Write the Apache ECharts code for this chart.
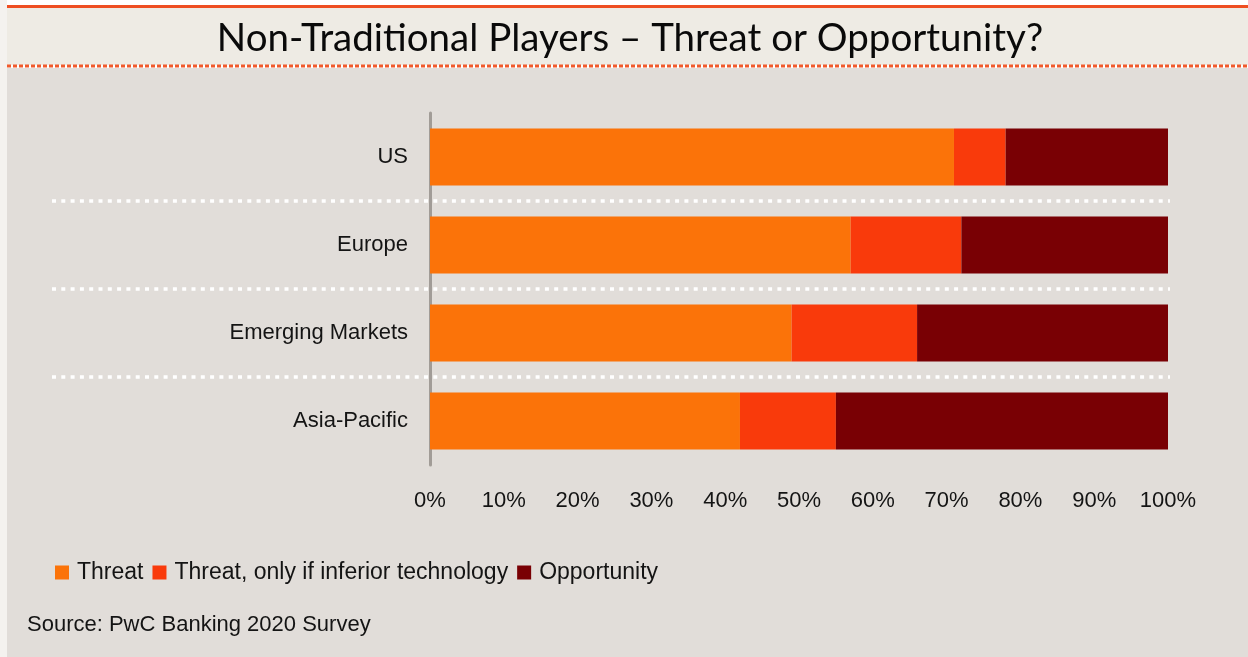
<!DOCTYPE html>
<html>
<head>
<meta charset="utf-8">
<title>Non-Traditional Players – Threat or Opportunity?</title>
<script src="https://cdn.jsdelivr.net/npm/echarts@6/dist/echarts.min.js"></script>
<style>
  html, body { margin: 0; padding: 0; background: #e1ddd9; }
  #chart { width: 1248px; height: 657px; }
</style>
</head>
<body>
<div id="chart"></div>
<script>
// Survey regions, top to bottom
const categories = ['US', 'Europe', 'Emerging Markets', 'Asia-Pacific'];

// Share of respondents (%) per answer
const threat = [71, 57, 49, 42];
const threatIfInferior = [7, 15, 17, 13];
const opportunity = [22, 28, 34, 45];

const seriesNames = ['Threat', 'Threat, only if inferior technology', 'Opportunity'];
const seriesColors = ['#fb7309', '#f93a0b', '#790004'];

// Percentage axis
const xMin = 0;
const xMax = 100;
const xStep = 10;

const titleText = 'Non-Traditional Players – Threat or Opportunity?';
const sourceText = 'Source: PwC Banking 2020 Survey';

const textFont = '"Liberation Sans", Arial, Helvetica, sans-serif';
const textColor = '#141414';

const chart = echarts.init(document.getElementById('chart'), null, { renderer: 'canvas' });

const values = [threat, threatIfInferior, opportunity];

chart.setOption({
  backgroundColor: '#e1ddd9',
  animation: false,
  title: {
    text: titleText,
    left: 630,
    top: 39,
    textAlign: 'center',
    textVerticalAlign: 'middle',
    padding: 0,
    textStyle: {
      fontFamily: 'Lato, "Open Sans", sans-serif',
      fontWeight: 'normal',
      fontSize: 38.5,
      color: '#0a0a0a'
    }
  },
  legend: {
    left: 55,
    top: 561,
    icon: 'rect',
    itemWidth: 14,
    itemHeight: 14,
    itemGap: 9,
    padding: 0,
    selectedMode: false,
    data: seriesNames,
    textStyle: {
      fontFamily: textFont,
      fontSize: 23,
      color: textColor,
      padding: [0, 0, 0, 3]
    }
  },
  grid: [
    // main bar area
    { left: 430, top: 113, width: 738, height: 352, containLabel: false },
    // separators between region bands, spanning the label column too
    { left: 52, top: 201, width: 1118, height: 176, containLabel: false }
  ],
  xAxis: [
    {
      type: 'value',
      gridIndex: 0,
      min: xMin,
      max: xMax,
      interval: xStep,
      axisLine: { show: false },
      axisTick: { show: false },
      splitLine: { show: false },
      axisLabel: {
        formatter: '{value}%',
        margin: 25,
        fontFamily: textFont,
        fontSize: 22,
        color: textColor
      }
    },
    {
      type: 'value',
      gridIndex: 1,
      show: false
    }
  ],
  yAxis: [
    {
      type: 'category',
      gridIndex: 0,
      data: categories,
      inverse: true,
      axisLine: { show: true, lineStyle: { color: '#a19c97', width: 3 } },
      axisTick: { show: false },
      splitLine: { show: false },
      axisLabel: {
        margin: 22,
        fontFamily: textFont,
        fontSize: 22,
        color: textColor
      }
    },
    {
      // band boundaries below each of the first three regions
      type: 'category',
      gridIndex: 1,
      data: categories.slice(1),
      inverse: true,
      boundaryGap: false,
      axisLine: { show: false },
      axisTick: { show: false },
      axisLabel: { show: false },
      splitLine: {
        show: true,
        lineStyle: { color: '#ffffff', width: 3.5, type: [4, 5.3] }
      }
    }
  ],
  graphic: [
    // page margins and header band
    { type: 'rect', silent: true, z: -1, shape: { x: 0, y: 0, width: 1248, height: 68 }, style: { fill: '#ffffff' } },
    { type: 'rect', silent: true, z: -1, shape: { x: 0, y: 0, width: 7, height: 657 }, style: { fill: '#f4f2ef' } },
    { type: 'rect', silent: true, z: -1, shape: { x: 7, y: 8, width: 1241, height: 57 }, style: { fill: '#eeebe4' } },
    { type: 'rect', silent: true, z: -1, shape: { x: 7, y: 5, width: 1241, height: 3 }, style: { fill: '#ee4e22' } },
    { type: 'line', silent: true, z: -1, shape: { x1: 7, y1: 66, x2: 1248, y2: 66 }, style: { stroke: '#f05a2c', lineWidth: 3, lineDash: [4, 2] } },
    {
      type: 'text',
      silent: true,
      left: 27,
      top: 614,
      style: {
        text: sourceText,
        font: '22px ' + textFont,
        fill: textColor
      }
    }
  ],
  series: values.map((data, i) => ({
    name: seriesNames[i],
    type: 'bar',
    stack: 'share',
    xAxisIndex: 0,
    yAxisIndex: 0,
    barWidth: 57,
    itemStyle: { color: seriesColors[i] },
    emphasis: { disabled: true },
    data: data
  }))
});
</script>
</body>
</html>
